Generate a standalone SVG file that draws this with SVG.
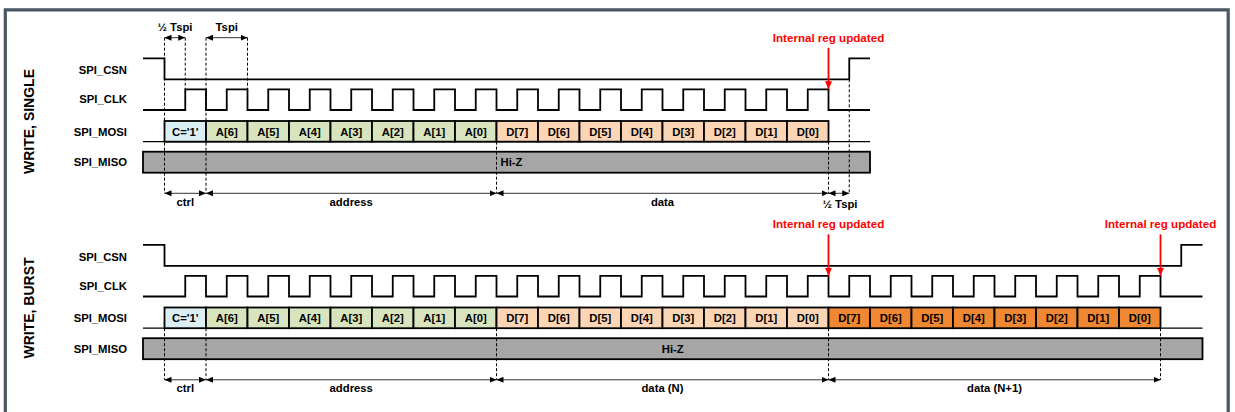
<svg xmlns="http://www.w3.org/2000/svg" width="1235" height="412" viewBox="0 0 1235 412">
<style>
text{font-family:"Liberation Sans",Arial,sans-serif;font-weight:bold;fill:#000}
.lbl{font-size:11.3px;text-anchor:end}
.ttl{font-size:14px;text-anchor:middle}
.bt{font-size:11.3px;text-anchor:middle}
.red{font-size:11.6px;text-anchor:middle;fill:#ff0000}
.sig{fill:none;stroke:#000;stroke-width:1.8}
.idle{fill:none;stroke:#000;stroke-width:1.2}
.box{stroke:#000;stroke-width:1.8}
.c{fill:#dbeef4}.a{fill:#d7e4bd}.d{fill:#fcd5b5}.e{fill:#ef8733}
.miso{fill:#a6a6a6;stroke:#000;stroke-width:1.8}
.dash{fill:none;stroke:#000;stroke-width:1;stroke-dasharray:3,2}
.dim{fill:none;stroke:#333;stroke-width:1;marker-start:url(#ah);marker-end:url(#ah)}
.rarr{fill:none;stroke:#ff0000;stroke-width:1.8;marker-end:url(#rh)}
</style>
<defs>
<marker id="ah" viewBox="0 0 7 6" refX="7" refY="3" markerWidth="7" markerHeight="6" markerUnits="userSpaceOnUse" orient="auto-start-reverse"><path d="M0,0 L7,3 L0,6 z" fill="#000"/></marker>
<marker id="rh" viewBox="0 0 8 7" refX="8" refY="3.5" markerWidth="8" markerHeight="7" markerUnits="userSpaceOnUse" orient="auto"><path d="M0,0 L8,3.5 L0,7 z" fill="#ff0000"/></marker>
</defs>
<path d="M5.3,412 V9.8 H1228.2 V412" fill="none" stroke="#4a5763" stroke-width="3.2"/>

<g id="write-single">
<text class="ttl" transform="translate(33.5,121.5) rotate(-90)">WRITE, SINGLE</text>
<g id="s-labels">
<text class="lbl" x="127" y="74">SPI_CSN</text>
<text class="lbl" x="127" y="103.3">SPI_CLK</text>
<text class="lbl" x="127" y="135.7">SPI_MOSI</text>
<text class="lbl" x="127" y="166.3">SPI_MISO</text>
</g>
<g id="s-csn"><path class="sig" d="M143,58.3 H164.5 V79.3 H849.25 V58.3 H870"/></g>
<g id="s-clk"><path class="sig" d="M143,110 H185.25 v-20.7h20.75v20.7h20.75 v-20.7h20.75v20.7h20.75 v-20.7h20.75v20.7h20.75 v-20.7h20.75v20.7h20.75 v-20.7h20.75v20.7h20.75 v-20.7h20.75v20.7h20.75 v-20.7h20.75v20.7h20.75 v-20.7h20.75v20.7h20.75 v-20.7h20.75v20.7h20.75 v-20.7h20.75v20.7h20.75 v-20.7h20.75v20.7h20.75 v-20.7h20.75v20.7h20.75 v-20.7h20.75v20.7h20.75 v-20.7h20.75v20.7h20.75 v-20.7h20.75v20.7h20.75 v-20.7h20.75v20.7 H870"/></g>
<g id="s-mosi">
<path class="idle" d="M143,141.7 H870"/>
<rect class="box c" x="164.5" y="121" width="41.5" height="20.7"/>
<rect class="box a" x="206" y="121" width="41.5" height="20.7"/>
<rect class="box a" x="247.5" y="121" width="41.5" height="20.7"/>
<rect class="box a" x="289" y="121" width="41.5" height="20.7"/>
<rect class="box a" x="330.5" y="121" width="41.5" height="20.7"/>
<rect class="box a" x="372" y="121" width="41.5" height="20.7"/>
<rect class="box a" x="413.5" y="121" width="41.5" height="20.7"/>
<rect class="box a" x="455" y="121" width="41.5" height="20.7"/>
<rect class="box d" x="496.5" y="121" width="41.5" height="20.7"/>
<rect class="box d" x="538" y="121" width="41.5" height="20.7"/>
<rect class="box d" x="579.5" y="121" width="41.5" height="20.7"/>
<rect class="box d" x="621" y="121" width="41.5" height="20.7"/>
<rect class="box d" x="662.5" y="121" width="41.5" height="20.7"/>
<rect class="box d" x="704" y="121" width="41.5" height="20.7"/>
<rect class="box d" x="745.5" y="121" width="41.5" height="20.7"/>
<rect class="box d" x="787" y="121" width="41.5" height="20.7"/>
<text class="bt" x="185.25" y="135.5">C='1'</text>
<text class="bt" x="226.75" y="135.5">A[6]</text>
<text class="bt" x="268.25" y="135.5">A[5]</text>
<text class="bt" x="309.75" y="135.5">A[4]</text>
<text class="bt" x="351.25" y="135.5">A[3]</text>
<text class="bt" x="392.75" y="135.5">A[2]</text>
<text class="bt" x="434.25" y="135.5">A[1]</text>
<text class="bt" x="475.75" y="135.5">A[0]</text>
<text class="bt" x="517.25" y="135.5">D[7]</text>
<text class="bt" x="558.75" y="135.5">D[6]</text>
<text class="bt" x="600.25" y="135.5">D[5]</text>
<text class="bt" x="641.75" y="135.5">D[4]</text>
<text class="bt" x="683.25" y="135.5">D[3]</text>
<text class="bt" x="724.75" y="135.5">D[2]</text>
<text class="bt" x="766.25" y="135.5">D[1]</text>
<text class="bt" x="807.75" y="135.5">D[0]</text>
</g>
<g id="s-miso">
<rect class="miso" x="143" y="151.7" width="727" height="21"/>
<text class="bt" x="511.5" y="166">Hi-Z</text>
</g>
<g id="s-connectors">
<path class="dash" d="M164.5,37.7 V193.3 M185.25,37.7 V89.3 M206,37.7 V193.3 M247.5,37.7 V89.3 M496.5,141.7 V193.3 M828.5,141.7 V193.3 M849.25,79.3 V193.3"/>
<path class="dim" d="M164.5,37.7 H185.25"/>
<path class="dim" d="M206,37.7 H247.5"/>
<path class="dim" d="M164.5,193.3 H206"/>
<path class="dim" d="M206,193.3 H496.5"/>
<path class="dim" d="M496.5,193.3 H828.5"/>
<path class="dim" d="M828.5,193.3 H849.25"/>
<path class="rarr" d="M828.5,47.8 V89.3"/>
</g>
<text class="bt" x="175" y="30.7">½ Tspi</text>
<text class="bt" x="226.75" y="30.7">Tspi</text>
<text class="bt" x="185.25" y="205.8">ctrl</text>
<text class="bt" x="351.25" y="205.8">address</text>
<text class="bt" x="662.5" y="205.8">data</text>
<text class="bt" x="840" y="208">½ Tspi</text>
<text class="red" x="828.5" y="41.8">Internal reg updated</text>
</g>

<g id="write-burst" transform="translate(0,186.5)">
<text class="ttl" transform="translate(33.5,121.5) rotate(-90)">WRITE, BURST</text>
<g id="b-labels">
<text class="lbl" x="127" y="74">SPI_CSN</text>
<text class="lbl" x="127" y="103.3">SPI_CLK</text>
<text class="lbl" x="127" y="135.7">SPI_MOSI</text>
<text class="lbl" x="127" y="166.3">SPI_MISO</text>
</g>
<g id="b-csn"><path class="sig" d="M143,58.3 H164.5 V79.3 H1181.25 V58.3 H1202.5"/></g>
<g id="b-clk"><path class="sig" d="M143,110 H185.25 v-20.7h20.75v20.7h20.75 v-20.7h20.75v20.7h20.75 v-20.7h20.75v20.7h20.75 v-20.7h20.75v20.7h20.75 v-20.7h20.75v20.7h20.75 v-20.7h20.75v20.7h20.75 v-20.7h20.75v20.7h20.75 v-20.7h20.75v20.7h20.75 v-20.7h20.75v20.7h20.75 v-20.7h20.75v20.7h20.75 v-20.7h20.75v20.7h20.75 v-20.7h20.75v20.7h20.75 v-20.7h20.75v20.7h20.75 v-20.7h20.75v20.7h20.75 v-20.7h20.75v20.7h20.75 v-20.7h20.75v20.7h20.75 v-20.7h20.75v20.7h20.75 v-20.7h20.75v20.7h20.75 v-20.7h20.75v20.7h20.75 v-20.7h20.75v20.7h20.75 v-20.7h20.75v20.7h20.75 v-20.7h20.75v20.7h20.75 v-20.7h20.75v20.7h20.75 v-20.7h20.75v20.7 H1202.5"/></g>
<g id="b-mosi">
<path class="idle" d="M143,141.7 H1202.5"/>
<rect class="box c" x="164.5" y="121" width="41.5" height="20.7"/>
<rect class="box a" x="206" y="121" width="41.5" height="20.7"/>
<rect class="box a" x="247.5" y="121" width="41.5" height="20.7"/>
<rect class="box a" x="289" y="121" width="41.5" height="20.7"/>
<rect class="box a" x="330.5" y="121" width="41.5" height="20.7"/>
<rect class="box a" x="372" y="121" width="41.5" height="20.7"/>
<rect class="box a" x="413.5" y="121" width="41.5" height="20.7"/>
<rect class="box a" x="455" y="121" width="41.5" height="20.7"/>
<rect class="box d" x="496.5" y="121" width="41.5" height="20.7"/>
<rect class="box d" x="538" y="121" width="41.5" height="20.7"/>
<rect class="box d" x="579.5" y="121" width="41.5" height="20.7"/>
<rect class="box d" x="621" y="121" width="41.5" height="20.7"/>
<rect class="box d" x="662.5" y="121" width="41.5" height="20.7"/>
<rect class="box d" x="704" y="121" width="41.5" height="20.7"/>
<rect class="box d" x="745.5" y="121" width="41.5" height="20.7"/>
<rect class="box d" x="787" y="121" width="41.5" height="20.7"/>
<rect class="box e" x="828.5" y="121" width="41.5" height="20.7"/>
<rect class="box e" x="870" y="121" width="41.5" height="20.7"/>
<rect class="box e" x="911.5" y="121" width="41.5" height="20.7"/>
<rect class="box e" x="953" y="121" width="41.5" height="20.7"/>
<rect class="box e" x="994.5" y="121" width="41.5" height="20.7"/>
<rect class="box e" x="1036" y="121" width="41.5" height="20.7"/>
<rect class="box e" x="1077.5" y="121" width="41.5" height="20.7"/>
<rect class="box e" x="1119" y="121" width="41.5" height="20.7"/>
<text class="bt" x="185.25" y="135.5">C='1'</text>
<text class="bt" x="226.75" y="135.5">A[6]</text>
<text class="bt" x="268.25" y="135.5">A[5]</text>
<text class="bt" x="309.75" y="135.5">A[4]</text>
<text class="bt" x="351.25" y="135.5">A[3]</text>
<text class="bt" x="392.75" y="135.5">A[2]</text>
<text class="bt" x="434.25" y="135.5">A[1]</text>
<text class="bt" x="475.75" y="135.5">A[0]</text>
<text class="bt" x="517.25" y="135.5">D[7]</text>
<text class="bt" x="558.75" y="135.5">D[6]</text>
<text class="bt" x="600.25" y="135.5">D[5]</text>
<text class="bt" x="641.75" y="135.5">D[4]</text>
<text class="bt" x="683.25" y="135.5">D[3]</text>
<text class="bt" x="724.75" y="135.5">D[2]</text>
<text class="bt" x="766.25" y="135.5">D[1]</text>
<text class="bt" x="807.75" y="135.5">D[0]</text>
<text class="bt" x="849.25" y="135.5">D[7]</text>
<text class="bt" x="890.75" y="135.5">D[6]</text>
<text class="bt" x="932.25" y="135.5">D[5]</text>
<text class="bt" x="973.75" y="135.5">D[4]</text>
<text class="bt" x="1015.25" y="135.5">D[3]</text>
<text class="bt" x="1056.75" y="135.5">D[2]</text>
<text class="bt" x="1098.25" y="135.5">D[1]</text>
<text class="bt" x="1139.75" y="135.5">D[0]</text>
</g>
<g id="b-miso">
<rect class="miso" x="143" y="151.7" width="1059.5" height="21"/>
<text class="bt" x="672.75" y="166">Hi-Z</text>
</g>
<g id="b-connectors">
<path class="dash" d="M164.5,141.7 V193.3 M206,141.7 V193.3 M496.5,141.7 V193.3 M828.5,141.7 V193.3 M1160.5,141.7 V193.3"/>
<path class="dim" d="M164.5,193.3 H206"/>
<path class="dim" d="M206,193.3 H496.5"/>
<path class="dim" d="M496.5,193.3 H828.5"/>
<path class="dim" d="M828.5,193.3 H1160.5"/>
<path class="rarr" d="M828.5,47.8 V89.3"/>
<path class="rarr" d="M1160.5,47.8 V89.3"/>
</g>
<text class="bt" x="185.25" y="205.8">ctrl</text>
<text class="bt" x="351.25" y="205.8">address</text>
<text class="bt" x="662.5" y="205.8">data (N)</text>
<text class="bt" x="994.5" y="205.8">data (N+1)</text>
<text class="red" x="828.5" y="41.8">Internal reg updated</text>
<text class="red" x="1160.5" y="41.8">Internal reg updated</text>
</g>
</svg>
